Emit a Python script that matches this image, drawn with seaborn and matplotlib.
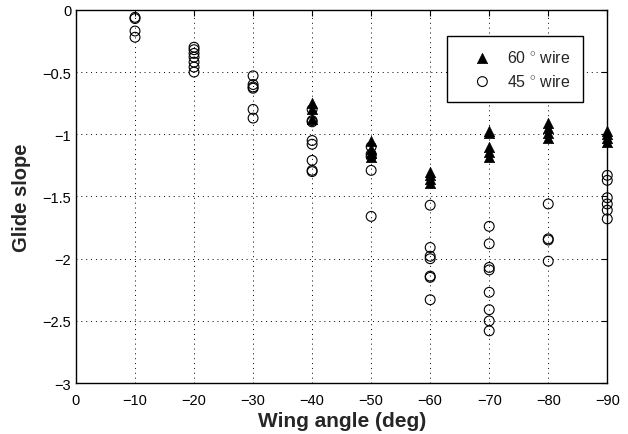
import numpy as np
import pandas as pd
import seaborn as sns
import matplotlib.pyplot as plt

# wing angle (deg) for each measurement, and glide slope
angle_60 = [-40, -40, -40,
            -50, -50, -50, -50,
            -60, -60, -60, -60,
            -70, -70, -70, -70, -70,
            -80, -80, -80, -80,
            -90, -90, -90, -90]
slope_60 = [-0.75, -0.80, -0.88,
            -1.05, -1.12, -1.15, -1.18,
            -1.30, -1.33, -1.36, -1.39,
            -0.97, -0.99, -1.10, -1.14, -1.18,
            -0.91, -0.95, -0.99, -1.03,
            -0.97, -1.00, -1.03, -1.06]

angle_45 = [-10, -10, -10, -10,
            -20, -20, -20, -20, -20, -20, -20,
            -30, -30, -30, -30, -30, -30,
            -40, -40, -40, -40, -40, -40, -40, -40,
            -50, -50, -50, -50, -50,
            -60, -60, -60, -60, -60, -60, -60,
            -70, -70, -70, -70, -70, -70, -70, -70,
            -80, -80, -80, -80,
            -90, -90, -90, -90, -90, -90]
slope_45 = [-0.06, -0.07, -0.17, -0.22,
            -0.30, -0.32, -0.35, -0.38, -0.42, -0.46, -0.50,
            -0.53, -0.60, -0.62, -0.63, -0.80, -0.87,
            -0.80, -0.89, -0.90, -1.05, -1.08, -1.21, -1.29, -1.30,
            -1.10, -1.16, -1.18, -1.29, -1.66,
            -1.57, -1.91, -1.98, -2.00, -2.14, -2.15, -2.33,
            -1.74, -1.88, -2.07, -2.09, -2.27, -2.41, -2.50, -2.58,
            -1.56, -1.84, -1.85, -2.02,
            -1.33, -1.37, -1.51, -1.56, -1.61, -1.68]

xticks = [0, -10, -20, -30, -40, -50, -60, -70, -80, -90]
yticks = [0, -0.5, -1, -1.5, -2, -2.5, -3]

df60 = pd.DataFrame({'angle': angle_60, 'slope': slope_60})
df45 = pd.DataFrame({'angle': angle_45, 'slope': slope_45})

sns.set_style('white')
plt.rcParams['font.family'] = ['Liberation Sans', 'DejaVu Sans']
plt.rcParams['mathtext.fontset'] = 'custom'
plt.rcParams['mathtext.rm'] = 'Liberation Sans'

fig = plt.figure(figsize=(6.28, 4.35), dpi=100)
ax = fig.add_axes([0.121, 0.117, 0.846, 0.858])

sns.scatterplot(data=df60, x='angle', y='slope', marker='^', color='black',
                s=55, edgecolor='black', linewidth=0.5, ax=ax,
                label='60 $^{\\circ}$ wire', zorder=3, clip_on=False)
sns.scatterplot(data=df45, x='angle', y='slope', marker='o', facecolors='none',
                edgecolor='black', linewidth=0.8, s=50, ax=ax,
                label='45 $^{\\circ}$ wire', zorder=4, clip_on=False)

ax.set_xlim(0, -90)
ax.set_ylim(-3, 0)
ax.set_xticks(xticks)
ax.set_yticks(yticks)
ax.set_xticklabels(['0' if t == 0 else '\u2212%d' % abs(t) for t in xticks])
ax.set_yticklabels(['0' if t == 0 else ('\u2212%g' % abs(t)) for t in yticks])
ax.tick_params(direction='in', top=True, right=True, length=4, width=0.8,
               labelsize=10.5, colors='black')
ax.tick_params(axis='x', pad=7)
ax.grid(True, linestyle=(0, (1, 4)), color='black', linewidth=0.7)
for sp in ax.spines.values():
    sp.set_color('black')
    sp.set_linewidth(1.0)

ax.set_xlabel('Wing angle (deg)', fontsize=15, fontweight='bold', labelpad=3)
ax.set_ylabel('Glide slope', fontsize=14.5, fontweight='bold', labelpad=8)

leg = ax.legend(loc='upper right', bbox_to_anchor=(0.955, 0.930),
                borderaxespad=0, fontsize=11.5,
                frameon=True, fancybox=False, edgecolor='black',
                framealpha=1, borderpad=0.8, handlelength=2.8,
                handletextpad=0.15, labelspacing=0.5)
leg.get_frame().set_linewidth(1.0)

plt.savefig('out.png', dpi=100)
